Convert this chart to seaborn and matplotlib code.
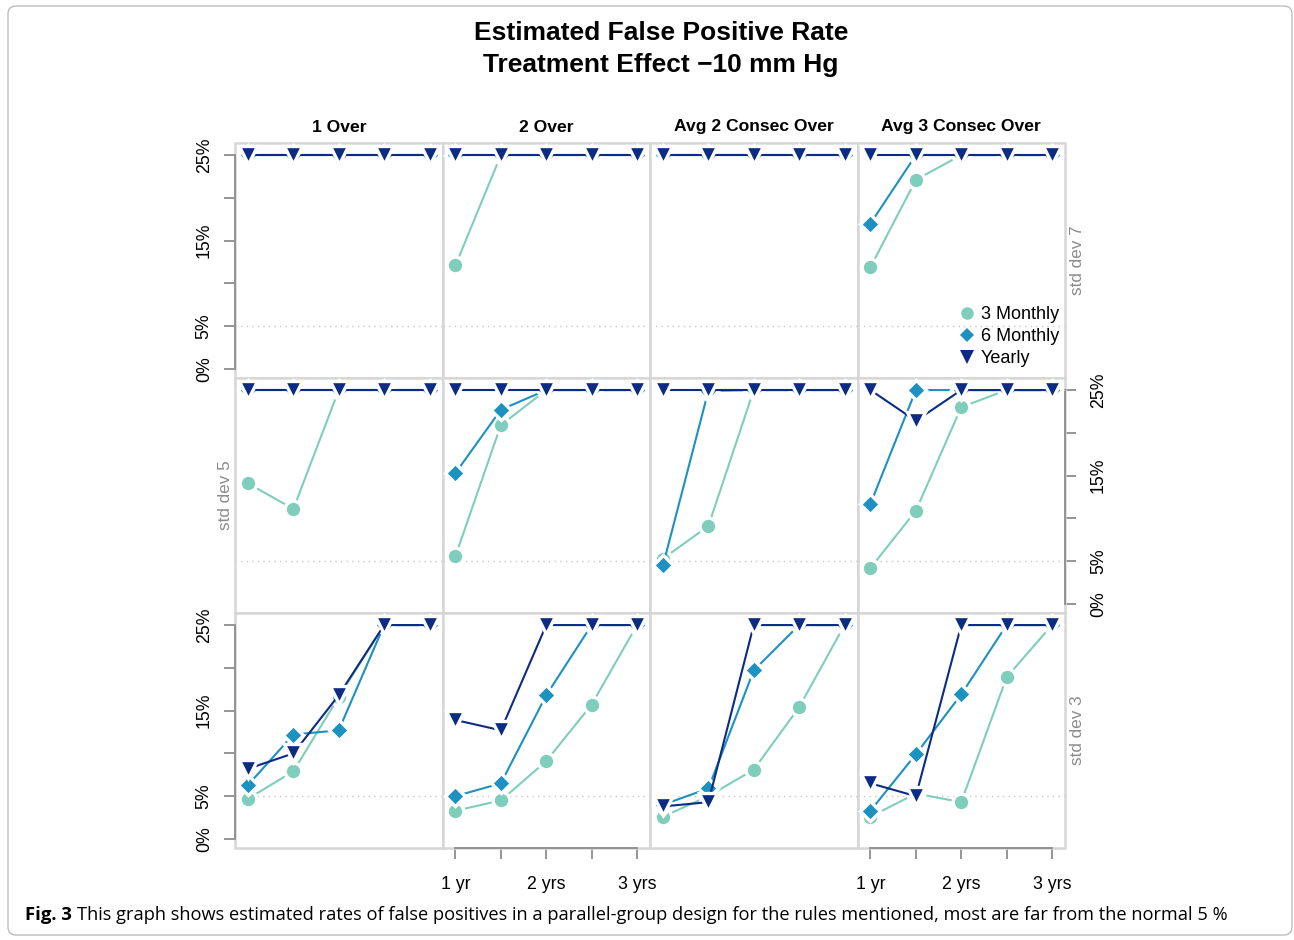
import numpy as np
import pandas as pd
import matplotlib.pyplot as plt
import seaborn as sns
from matplotlib.lines import Line2D
from matplotlib.patches import Rectangle, FancyBboxPatch
from matplotlib.transforms import IdentityTransform

# data (false positive rate, %)
years = [1, 1.5, 2, 2.5, 3]
year_labels = ['1 yr', '', '2 yrs', '', '3 yrs']
rules = ['1 Over', '2 Over', 'Avg 2 Consec Over', 'Avg 3 Consec Over']
sds = ['std dev 7', 'std dev 5', 'std dev 3']
schedules = ['3 Monthly', '6 Monthly', 'Yearly']

# std dev 7: one row per rule, one value per year
sd7_m3 = [[25, 25, 25, 25, 25], [12.1, 25, 25, 25, 25], [25, 25, 25, 25, 25], [11.9, 22.1, 25, 25, 25]]
sd7_m6 = [[25, 25, 25, 25, 25], [25, 25, 25, 25, 25], [25, 25, 25, 25, 25], [17.0, 25, 25, 25, 25]]
sd7_yr = [[25, 25, 25, 25, 25], [25, 25, 25, 25, 25], [25, 25, 25, 25, 25], [25, 25, 25, 25, 25]]
# std dev 5
sd5_m3 = [[14.1, 11.1, 25, 25, 25], [5.6, 20.9, 25, 25, 25], [5.3, 9.1, 25, 25, 25], [4.2, 10.9, 23.0, 25, 25]]
sd5_m6 = [[25, 25, 25, 25, 25], [15.3, 22.7, 25, 25, 25], [4.5, 24.9, 25, 25, 25], [11.7, 25, 25, 25, 25]]
sd5_yr = [[25, 25, 25, 25, 25], [25, 25, 25, 25, 25], [25, 25, 25, 25, 25], [25, 21.4, 25, 25, 25]]
# std dev 3
sd3_m3 = [[4.7, 7.9, 16.6, 25, 25], [3.3, 4.5, 9.1, 15.7, 25], [2.6, 5.0, 8.1, 15.4, 25], [2.6, 5.3, 4.3, 18.9, 25]]
sd3_m6 = [[6.3, 12.2, 12.7, 25, 25], [5.0, 6.5, 16.8, 25, 25], [4.0, 5.9, 19.7, 25, 25], [3.3, 9.9, 16.9, 25, 25]]
sd3_yr = [[8.2, 10.0, 16.8, 25, 25], [13.9, 12.7, 25, 25, 25], [3.8, 4.3, 25, 25, 25], [6.5, 5.0, 25, 25, 25]]

nominal = 5
ytick_vals = [0, 5, 10, 15, 20, 25]
ytick_labels = ['0%', '5%', '', '15%', '', '25%']

by_sd = {
    'std dev 7': [sd7_m3, sd7_m6, sd7_yr],
    'std dev 5': [sd5_m3, sd5_m6, sd5_yr],
    'std dev 3': [sd3_m3, sd3_m6, sd3_yr],
}

rows = []
for sd in sds:
    for sched, table in zip(schedules, by_sd[sd]):
        for rule, vals in zip(rules, table):
            for yr, v in zip(years, vals):
                rows.append({'sd': sd, 'rule': rule, 'schedule': sched, 'year': yr, 'rate': v})
df = pd.DataFrame(rows)

palette = {'3 Monthly': '#7FCDBB', '6 Monthly': '#1D91C0', 'Yearly': '#0C2C84'}
markers = {'3 Monthly': 'o', '6 Monthly': 'D', 'Yearly': 'v'}
msizes = {'3 Monthly': 12, '6 Monthly': 10.5, 'Yearly': 13.5}

sns.set_style('white')
plt.rcParams['font.family'] = ['Liberation Sans', 'DejaVu Sans']
plt.rcParams['text.color'] = 'black'
plt.rcParams['xtick.color'] = 'black'
plt.rcParams['ytick.color'] = 'black'

border_col = '#D6D6D6'
axis_col = '#8C8C8C'

fig = plt.figure(figsize=(12.94, 9.40), dpi=100)
gs = fig.add_gridspec(3, 4, left=235 / 1294, right=1065 / 1294,
                      top=1 - 143 / 940, bottom=1 - 848 / 940,
                      hspace=0, wspace=0)

for i, sd in enumerate(sds):
    for j, rule in enumerate(rules):
        ax = fig.add_subplot(gs[i, j])
        sub = df[(df['sd'] == sd) & (df['rule'] == rule)]
        ax.axhline(nominal, color='#C8C8C8', lw=1.0, ls=(0, (1, 3)), zorder=1)
        for sched in schedules:
            s = sub[sub['schedule'] == sched]
            sns.lineplot(data=s, x='year', y='rate', ax=ax, color=palette[sched],
                         marker=markers[sched], markersize=msizes[sched],
                         markeredgecolor='white', markeredgewidth=2.4,
                         lw=1.5, legend=False, zorder=3)
        ax.set_xlim(0.857, 3.143)
        ax.set_ylim(-1.06, 26.41)
        ax.set_xlabel('')
        ax.set_ylabel('')
        for sp in ax.spines.values():
            sp.set_visible(False)
        ax.add_patch(Rectangle((0, 0), 1, 1, transform=ax.transAxes, fill=False,
                               edgecolor=border_col, lw=1.8, clip_on=False, zorder=2))

        # y axis alternating: left on rows 1 and 3, right on row 2
        left_axis = (j == 0 and i != 1)
        right_axis = (j == 3 and i == 1)
        ax.set_yticks(ytick_vals)
        ax.set_yticklabels(ytick_labels)
        if left_axis:
            ax.tick_params(axis='y', left=True, labelleft=True, right=False, labelright=False,
                           length=8, width=1.3, color=axis_col, pad=8, labelsize=12.8,
                           labelrotation=90)
            ax.spines['left'].set_visible(True)
            ax.spines['left'].set_bounds(0, 25)
            ax.spines['left'].set_color(axis_col)
            ax.spines['left'].set_linewidth(1.3)
            for t in ax.get_yticklabels():
                t.set_va('center')
        elif right_axis:
            ax.yaxis.tick_right()
            ax.tick_params(axis='y', left=False, labelleft=False, right=True, labelright=True,
                           length=8, width=1.3, color=axis_col, pad=10, labelsize=12.8,
                           labelrotation=90)
            ax.spines['right'].set_visible(True)
            ax.spines['right'].set_bounds(0, 25)
            ax.spines['right'].set_color(axis_col)
            ax.spines['right'].set_linewidth(1.3)
            for t in ax.get_yticklabels():
                t.set_va('center')
        else:
            ax.tick_params(axis='y', left=False, labelleft=False, right=False, labelright=False)

        # x axis only under columns 2 and 4
        ax.set_xticks(years)
        ax.set_xticklabels(year_labels)
        if i == 2 and j in (1, 3):
            ax.tick_params(axis='x', bottom=True, labelbottom=True, length=8, width=1.3,
                           color=axis_col, pad=12, labelsize=12.8)
            ax.spines['bottom'].set_visible(True)
            ax.spines['bottom'].set_bounds(1, 3)
            ax.spines['bottom'].set_color(axis_col)
            ax.spines['bottom'].set_linewidth(1.3)
        else:
            ax.tick_params(axis='x', bottom=False, labelbottom=False)

        if i == 0:
            ax.text(0.5, 1 + 16 / 235, rule, transform=ax.transAxes, ha='center',
                    va='center', fontsize=12.6, fontweight='bold')
        if j == 3 and i != 1:
            ax.text(1 + 12 / 207.5, 0.5, sd, transform=ax.transAxes, rotation=90,
                    ha='center', va='center', fontsize=12.3, color='#8C8C8C')
        if j == 0 and i == 1:
            ax.text(-10 / 207.5, 0.5, sd, transform=ax.transAxes, rotation=90,
                    ha='center', va='center', fontsize=12.3, color='#8C8C8C')

        if i == 0 and j == 3:
            handles = [Line2D([], [], ls='none', marker=markers[s], color=palette[s],
                              markersize=msizes[s] - 3, markeredgewidth=0) for s in schedules]
            ax.legend(handles, schedules, loc='lower right', frameon=False,
                      bbox_to_anchor=(1 - 6 / 207.5, 11 / 235), borderaxespad=0,
                      fontsize=13, handletextpad=0.25, labelspacing=0.28,
                      handlelength=1.0, borderpad=0)

fig.text(661 / 1294, 1 - 33 / 940, 'Estimated False Positive Rate', ha='center',
         va='center', fontsize=19, fontweight='bold')
fig.text(661 / 1294, 1 - 65 / 940, 'Treatment Effect \u221210 mm Hg', ha='center',
         va='center', fontsize=19, fontweight='bold')

cap_font = ['Open Sans', 'DejaVu Sans']
fig_lbl = fig.text(25 / 1294, 1 - 915 / 940, 'Fig. 3', ha='left', va='center', fontsize=13.3,
                   fontweight='bold', family=cap_font)
fig.canvas.draw()
x_end = fig_lbl.get_window_extent().x1
fig.text((x_end + 5) / 1294, 1 - 915 / 940,
         'This graph shows estimated rates of false positives in a parallel-group design '
         'for the rules mentioned, most are far from the normal 5 %',
         ha='left', va='center', fontsize=13.15, family=cap_font)

frame = FancyBboxPatch((8, 5), 1284, 929, boxstyle='round,pad=0,rounding_size=8',
                       transform=IdentityTransform(), fill=False, edgecolor='#BDBDBD', lw=1.0)
fig.add_artist(frame)

fig.savefig('out.png', dpi=100)
